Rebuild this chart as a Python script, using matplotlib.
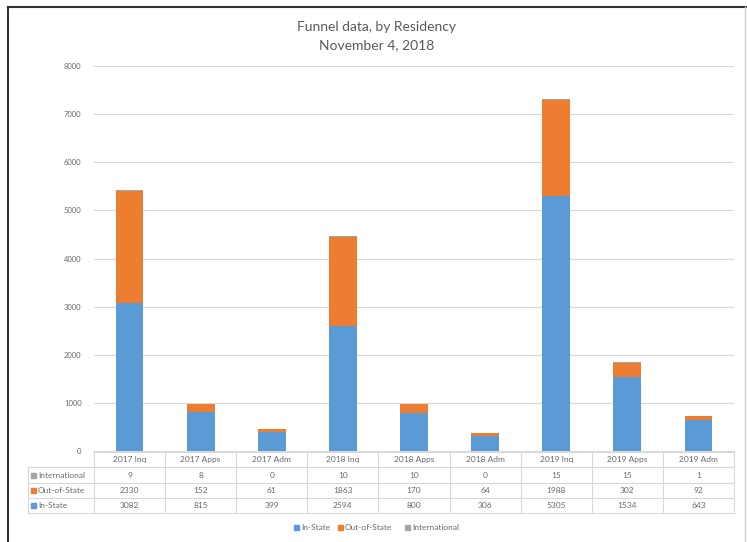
import matplotlib
matplotlib.use("Agg")
import matplotlib.pyplot as plt
from matplotlib import transforms
from matplotlib.lines import Line2D
from matplotlib.patches import Rectangle

categories = ["2017 Inq", "2017 Apps", "2017 Adm", "2018 Inq", "2018 Apps",
              "2018 Adm", "2019 Inq", "2019 Apps", "2019 Adm"]
in_state = [3082, 815, 399, 2594, 800, 306, 5305, 1534, 643]
out_of_state = [2330, 152, 61, 1863, 170, 64, 1988, 302, 92]
international = [9, 8, 0, 10, 10, 0, 15, 15, 1]

series_names = ["In-State", "Out-of-State", "International"]
colors = ["#5B9BD5", "#ED7D31", "#A5A5A5"]
y_ticks = [0, 1000, 2000, 3000, 4000, 5000, 6000, 7000, 8000]

W, H = 747, 542
plt.rcParams["font.family"] = ["Lato", "DejaVu Sans"]
text_color = "#6A6A6A"
grid_color = "#D9D9D9"

fig = plt.figure(figsize=(W / 100, H / 100), dpi=100)
fig.patch.set_facecolor("white")


def fx(x):
    return x / W


def fy(y):
    return 1 - y / H


ax = fig.add_axes([fx(94), fy(451), fx(734) - fx(94), fy(66) - fy(451)])
x = list(range(len(categories)))
bw = 0.39
ax.bar(x, in_state, bw, color=colors[0], zorder=3)
bottom2 = [a for a in in_state]
ax.bar(x, out_of_state, bw, bottom=bottom2, color=colors[1], zorder=3)
bottom3 = [a + b for a, b in zip(in_state, out_of_state)]
ax.bar(x, international, bw, bottom=bottom3, color=colors[2], zorder=3)

ax.set_xlim(-0.5, len(categories) - 0.5)
ax.set_ylim(0, 8000)
ax.set_yticks(y_ticks)
ax.set_yticklabels([str(t) for t in y_ticks], fontsize=5.5, color=text_color)
ax.tick_params(axis="y", length=0, pad=9)
ax.set_xticks([])
ax.grid(axis="y", color=grid_color, linewidth=0.8, zorder=0)
for s in ["top", "right", "left"]:
    ax.spines[s].set_visible(False)
ax.spines["bottom"].set_color(grid_color)
ax.spines["bottom"].set_linewidth(0.8)

# Title
fig.text(fx(377), fy(27), "Funnel data, by Residency", ha="center", va="center",
         fontsize=10, color="#595959")
fig.text(fx(377), fy(45), "November 4, 2018", ha="center", va="center",
         fontsize=10, color="#595959")

# Data table under the plot
tr = transforms.blended_transform_factory(ax.transData, fig.transFigure)
row_edges = [452, 467, 483, 498, 513]
n = len(categories)
table_left_px = 28


def hline(x0, x1, y, transform):
    fig.add_artist(Line2D([x0, x1], [fy(y), fy(y)], color=grid_color,
                          linewidth=0.8, transform=transform))


def vline(xv, y0, y1, transform):
    fig.add_artist(Line2D([xv, xv], [fy(y0), fy(y1)], color=grid_color,
                          linewidth=0.8, transform=transform))


# horizontal rules
hline(-0.5, n - 0.5, row_edges[0], tr)
for y in row_edges[1:]:
    hline(fx(table_left_px), fx(734), y, fig.transFigure)
# vertical rules
for i in range(n + 1):
    vline(i - 0.5, row_edges[0], row_edges[-1], tr)
vline(fx(table_left_px), row_edges[1], row_edges[-1], fig.transFigure)

# header labels
for i, c in enumerate(categories):
    fig.text(i, fy((row_edges[0] + row_edges[1]) / 2), c, transform=tr,
             ha="center", va="center", fontsize=6, color=text_color)

rows = [("International", international, colors[2]),
        ("Out-of-State", out_of_state, colors[1]),
        ("In-State", in_state, colors[0])]
for r, (name, vals, col) in enumerate(rows):
    yc = (row_edges[r + 1] + row_edges[r + 2]) / 2
    fig.add_artist(Rectangle((fx(31), fy(yc + 2.5)), fx(5), fy(0) - fy(5),
                             transform=fig.transFigure, color=col))
    fig.text(fx(38), fy(yc), name, ha="left", va="center", fontsize=6,
             color=text_color)
    for i, v in enumerate(vals):
        fig.text(i, fy(yc), str(v), transform=tr, ha="center", va="center",
                 fontsize=6, color=text_color)

# Legend
legend_items = [(294, series_names[0], colors[0]),
                (338, series_names[1], colors[1]),
                (405, series_names[2], colors[2])]
for xp, name, col in legend_items:
    fig.add_artist(Rectangle((fx(xp), fy(529.5)), fx(5), fy(0) - fy(5),
                             transform=fig.transFigure, color=col))
    fig.text(fx(xp + 7), fy(527), name, ha="left", va="center", fontsize=6,
             color=text_color)

# Outer frame
fig.add_artist(Line2D([fx(8), fx(747)], [fy(7), fy(7)], color="#333333",
                      linewidth=1.5, transform=fig.transFigure))
fig.add_artist(Line2D([fx(8), fx(8)], [fy(7), fy(542)], color="#333333",
                      linewidth=1.5, transform=fig.transFigure))
fig.add_artist(Line2D([fx(744.5), fx(744.5)], [fy(7), fy(542)], color="#D0D0D0",
                      linewidth=1.0, transform=fig.transFigure))

fig.savefig("out.png", dpi=100)
